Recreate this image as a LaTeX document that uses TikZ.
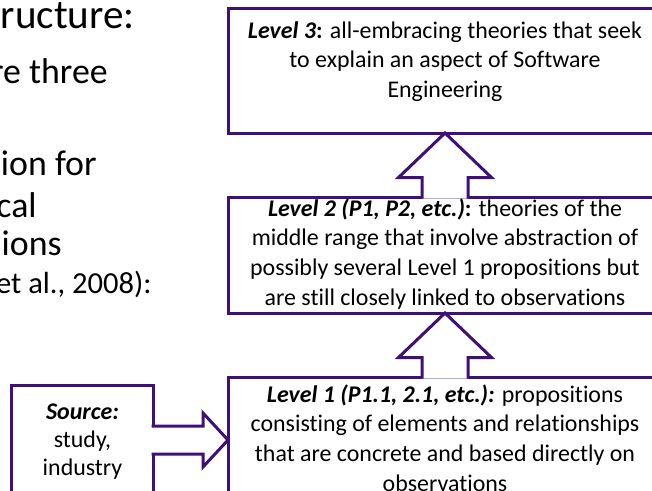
\documentclass[tikz,border=0pt]{standalone}
\usepackage{fontspec}
\setmainfont{Carlito}[Ligatures=CommonOff]
\usepackage{xcolor}
\usepackage{tikz}
\usetikzlibrary{positioning,calc}
\definecolor{levelpurple}{RGB}{62,16,120}

\begin{document}
\begin{tikzpicture}[
  levelbox/.style={draw=levelpurple, line width=0.06cm, fill=white, outer sep=0pt,
    minimum width=8.68cm},
  leveltext/.style={inner sep=0pt, align=center,
    font=\fontsize{13.6}{16.9}\selectfont, execute at begin node={\rule{0pt}{0.41cm}}},
  srctext/.style={inner sep=0pt, align=center,
    font=\fontsize{13.6}{16.0}\selectfont, execute at begin node={\rule{0pt}{0.385cm}}},
  slidetext/.style={inner sep=0pt, anchor=base east},
  blockarrow/.style={draw=levelpurple, line width=0.06cm, fill=white}
]
\useasboundingbox (0,0) rectangle (13.04,-9.8);
\clip (0,0) rectangle (13.04,-9.8);

% slide text cut off at the left
\node[slidetext, font=\fontsize{23.4}{28}\selectfont] (head) at (2.70,-0.56) {ructure:};
\node[slidetext, font=\fontsize{20.4}{24}\selectfont] (bulA) at (2.16,-1.66) {re three};
\node[slidetext, font=\fontsize{20.4}{24}\selectfont] (bulB) at (1.94,-3.50) {ion for};
\node[slidetext, font=\fontsize{20.4}{24}\selectfont] (bulC) at (0.74,-4.34) {cal};
\node[slidetext, font=\fontsize{20.4}{24}\selectfont] (bulD) at (1.24,-5.10) {ions};
\node[slidetext, font=\fontsize{17.4}{21}\selectfont] (bulE) at (3.04,-5.86) {et al., 2008):};

% level boxes
\node[levelbox, minimum height=2.50cm] (l3) at (8.90,-1.41) {};
\node[levelbox, minimum height=2.32cm] (l2) at (8.90,-5.10) {};
\node[levelbox, minimum height=2.52cm] (l1) at (8.90,-8.80) {};
\node[levelbox, minimum width=2.82cm, minimum height=2.20cm] (src) at (1.65,-8.80) {};

% block arrows
\foreach \lo/\hi in {l2/l3,l1/l2}
  \filldraw[blockarrow] ($(\lo.north)+(-0.46,-0.03)$) -- ($(\hi.south)+(-0.46,-0.89)$)
    -- ($(\hi.south)+(-0.93,-0.89)$) -- (\hi.south) -- ($(\hi.south)+(0.93,-0.89)$)
    -- ($(\hi.south)+(0.46,-0.89)$) -- ($(\lo.north)+(0.46,-0.03)$);
\filldraw[blockarrow] ($(src.east)+(-0.03,0.28)$) -- ($(l1.west)+(-0.50,0.28)$)
  -- ($(l1.west)+(-0.50,0.54)$) -- (l1.west) -- ($(l1.west)+(-0.50,-0.54)$)
  -- ($(l1.west)+(-0.50,-0.28)$) -- ($(src.east)+(-0.03,-0.28)$);

% texts
\node[leveltext, below=0.26cm of l3.north] (l3text) {\textbf{\textit{Level 3}}\textbf{:} all-embracing theories that seek\\
  to explain an aspect of Software\\ Engineering};
\node[leveltext, below=0.02cm of l2.north] (l2text) {\textbf{\textit{Level 2 (P1, P2, etc.)}}\textbf{:} theories of the\\
  middle range that involve abstraction of\\ possibly several Level 1 propositions but\\
  are still closely linked to observations};
\node[leveltext, below=0.14cm of l1.north] (l1text) {\textbf{\textit{Level 1 (P1.1, 2.1, etc.):}} propositions\\
  consisting of elements and relationships\\ that are concrete and based directly on\\ observations};
\node[srctext, below=0.37cm of src.north] (srctxt) {\textbf{\textit{Source:}}\\ study,\\ industry};
\end{tikzpicture}
\end{document}
